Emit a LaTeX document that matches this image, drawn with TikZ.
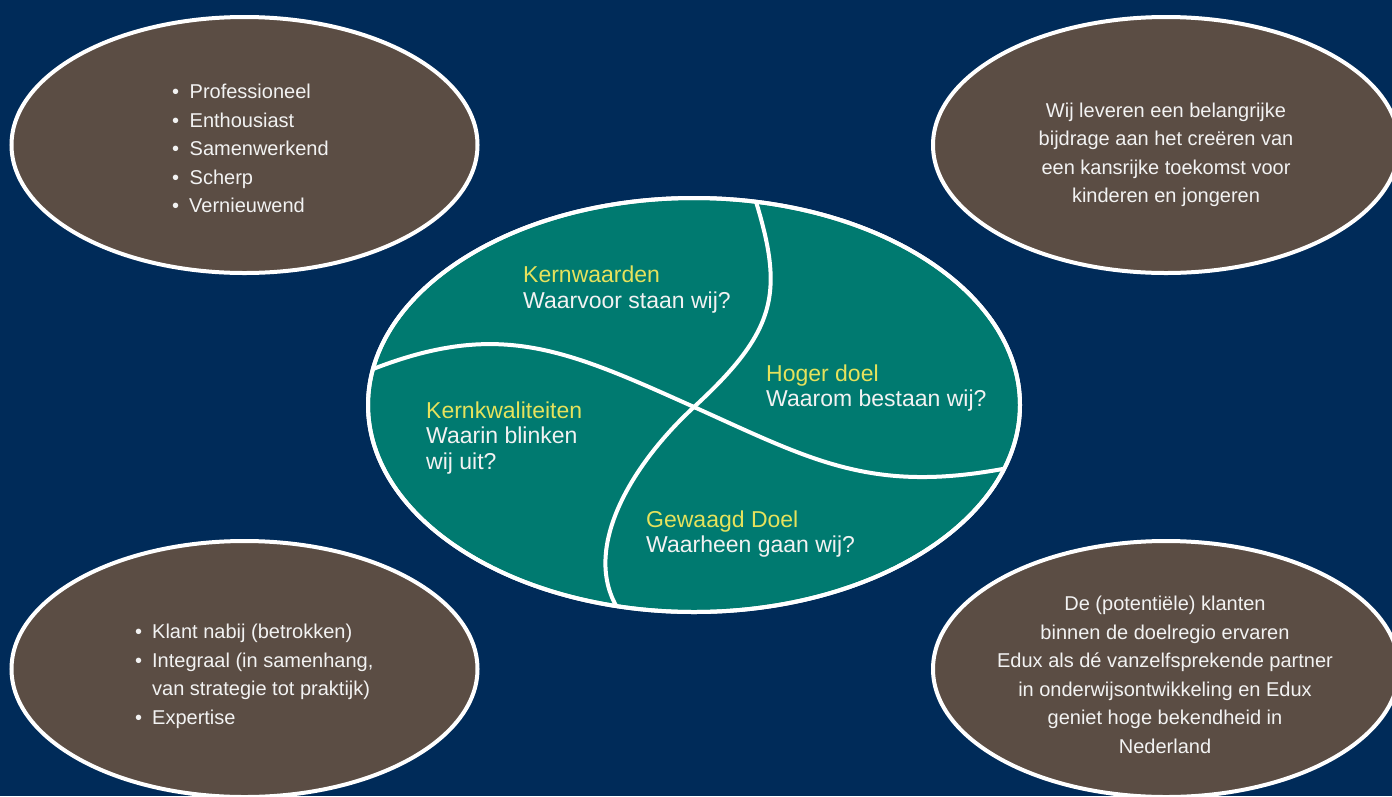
\documentclass[tikz,border=0pt]{standalone}
\usepackage{fontspec}
\setmainfont{Liberation Sans}
\usetikzlibrary{shapes.geometric}
\definecolor{navy}{RGB}{0,43,89}
\definecolor{bark}{RGB}{91,77,68}
\definecolor{tealc}{RGB}{0,122,112}
\definecolor{gold}{RGB}{230,226,92}
\definecolor{offwhite}{RGB}{242,242,242}
\begin{document}
\begin{tikzpicture}[x=1pt,y=-1pt,
  outerblob/.style={ellipse, draw=white, line width=4pt, fill=bark, inner sep=0pt,
    minimum width=466pt, minimum height=256pt},
  coreblob/.style={ellipse, draw=white, line width=4pt, fill=tealc, inner sep=0pt,
    minimum width=652pt, minimum height=414pt},
  divider/.style={draw=white, line width=4pt},
  centretxt/.style={font=\fontsize{23}{25.5}\selectfont, text=offwhite, align=left,
    inner sep=0pt, anchor=base west},
  outertxt/.style={font=\fontsize{20}{28.5}\selectfont, text=offwhite, inner sep=0pt}]
% background and page size
\fill[navy] (0,0) rectangle (1392,796);
\useasboundingbox (0,0) rectangle (1392,796);

% outer ellipses
\node[outerblob] (tl) at (244.5,145) {};
\node[outerblob] (tr) at (1166,145) {};
\node[outerblob] (bl) at (244.5,669) {};
\node[outerblob] (br) at (1166,669) {};

% central ellipse
\node[coreblob] (core) at (694,405) {};
\coordinate (cross) at (694,407);
\coordinate (vtop) at (753,192);
\coordinate (vbot) at (622,615);
\coordinate (hleft) at (368,371);
\coordinate (hright) at (1013,467);
\begin{scope}
  \clip (694,405) ellipse [x radius=326pt, y radius=207pt];
  \draw[divider] (vtop) .. controls (784,290) and (780,328) .. (cross)
                        .. controls (634,462) and (576,552) .. (vbot);
  \draw[divider] (hleft) .. controls (498,319) and (564,348.5) .. (cross)
                         .. controls (814,461) and (873,495) .. (hright);
\end{scope}
\draw[white, line width=4pt] (core.center) ellipse [x radius=326pt, y radius=207pt];

% central texts (anchored at the baseline of the last line)
\node[centretxt] (kw) at (523,308.3) {\textcolor{gold}{Kernwaarden}\\Waarvoor staan wij?};
\node[centretxt] (hd) at (766,406.7) {\textcolor{gold}{Hoger doel}\\Waarom bestaan wij?};
\node[centretxt] (kk) at (426,469) {\textcolor{gold}{Kernkwaliteiten}\\Waarin blinken\\wij uit?};
\node[centretxt] (gd) at (646,552.7) {\textcolor{gold}{Gewaagd Doel}\\Waarheen gaan wij?};

% outer texts (anchored at the baseline of the last line)
\node[outertxt, anchor=base west, align=left] (tltxt) at (172,212.7) {%
  \makebox[17.5pt][l]{\textbullet}Professioneel\\
  \makebox[17.5pt][l]{\textbullet}Enthousiast\\
  \makebox[17.5pt][l]{\textbullet}Samenwerkend\\
  \makebox[17.5pt][l]{\textbullet}Scherp\\
  \makebox[17pt][l]{\textbullet}Vernieuwend};
\node[outertxt, anchor=base, align=center] (trtxt) at (1166,202.7) {%
  Wij leveren een belangrijke\\
  bijdrage aan het creëren van\\
  een kansrijke toekomst voor\\
  kinderen en jongeren};
\node[outertxt, anchor=base west, align=left] (bltxt) at (135,724) {%
  \makebox[17pt][l]{\textbullet}Klant nabij (betrokken)\\
  \makebox[17pt][l]{\textbullet}Integraal (in samenhang,\\
  \hspace*{17pt}van strategie tot praktijk)\\
  \makebox[17pt][l]{\textbullet}Expertise};
\node[outertxt, anchor=base, align=center] (brtxt) at (1165,753.3) {%
  De (potentiële) klanten\\
  binnen de doelregio ervaren\\
  Edux als dé vanzelfsprekende partner\\
  in onderwijsontwikkeling en Edux\\
  geniet hoge bekendheid in\\
  Nederland};
\end{tikzpicture}
\end{document}
